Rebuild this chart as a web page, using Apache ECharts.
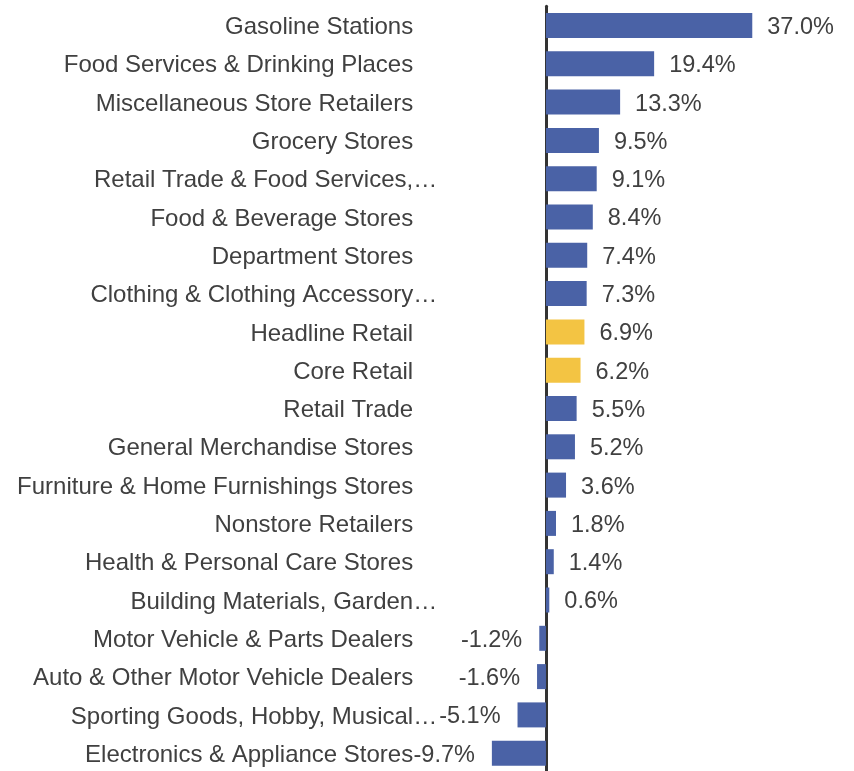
<!DOCTYPE html>
<html>
<head>
<meta charset="utf-8">
<script src="https://cdn.jsdelivr.net/npm/echarts@6/dist/echarts.min.js"></script>
<style>
html,body{margin:0;padding:0;background:#fff;}
#chart{width:854px;height:771px;}
</style>
</head>
<body>
<div id="chart"></div>
<script>
const categories = [
  "Gasoline Stations",
  "Food Services & Drinking Places",
  "Miscellaneous Store Retailers",
  "Grocery Stores",
  "Retail Trade & Food Services,…",
  "Food & Beverage Stores",
  "Department Stores",
  "Clothing & Clothing Accessory…",
  "Headline Retail",
  "Core Retail",
  "Retail Trade",
  "General Merchandise Stores",
  "Furniture & Home Furnishings Stores",
  "Nonstore Retailers",
  "Health & Personal Care Stores",
  "Building Materials, Garden…",
  "Motor Vehicle & Parts Dealers",
  "Auto & Other Motor Vehicle Dealers",
  "Sporting Goods, Hobby, Musical…",
  "Electronics & Appliance Stores"
];
const values = [37.0, 19.4, 13.3, 9.5, 9.1, 8.4, 7.4, 7.3, 6.9, 6.2, 5.5, 5.2, 3.6, 1.8, 1.4, 0.6, -1.2, -1.6, -5.1, -9.7];
const highlighted = ["Headline Retail", "Core Retail"];

const BLUE = '#4a62a6';
const YELLOW = '#f3c443';
const TEXT = '#404040';
const FONT = '"Liberation Sans", Arial, sans-serif';

const seriesData = values.map((v, i) => ({
  value: v,
  itemStyle: { color: highlighted.includes(categories[i]) ? YELLOW : BLUE },
  label: v >= 0 ? { position: 'right', distance: 15 } : { position: 'left', distance: 17 }
}));

const chart = echarts.init(document.getElementById('chart'), null, { renderer: 'canvas' });
chart.setOption({
  animation: false,
  backgroundColor: '#fff',
  grid: { left: 490.2, width: 278.8, top: 6.35, height: 766, containLabel: false, outerBoundsMode: 'none' },
  xAxis: {
    type: 'value', min: -10, max: 40, interval: 10,
    show: false
  },
  yAxis: {
    type: 'category',
    data: categories,
    inverse: true,
    axisLine: { show: true, onZero: true, lineStyle: { color: '#333333', width: 3 } },
    axisTick: { show: false },
    splitLine: { show: false },
    axisLabel: {
      interval: 0,
      margin: 53,
      fontFamily: FONT,
      fontSize: 24,
      color: TEXT,
      hideOverlap: false,
      formatter: function (name) {
        if (name.endsWith('…')) return '{t|' + name + '}';
        return '{t|' + name + '}{h|…}';
      },
      rich: {
        t: { fontFamily: FONT, fontSize: 24, color: TEXT, padding: [4, 0, 0, 0] },
        h: { fontFamily: FONT, fontSize: 24, color: 'rgba(0,0,0,0)', padding: [4, 0, 0, 0] }
      }
    }
  },
  series: [{
    type: 'bar',
    data: seriesData,
    barWidth: 25,
    label: {
      show: true,
      fontFamily: FONT,
      fontSize: 23.5,
      color: TEXT,
      offset: [0, 2],
      formatter: p => p.value.toFixed(1) + '%'
    }
  }]
});
</script>
</body>
</html>
